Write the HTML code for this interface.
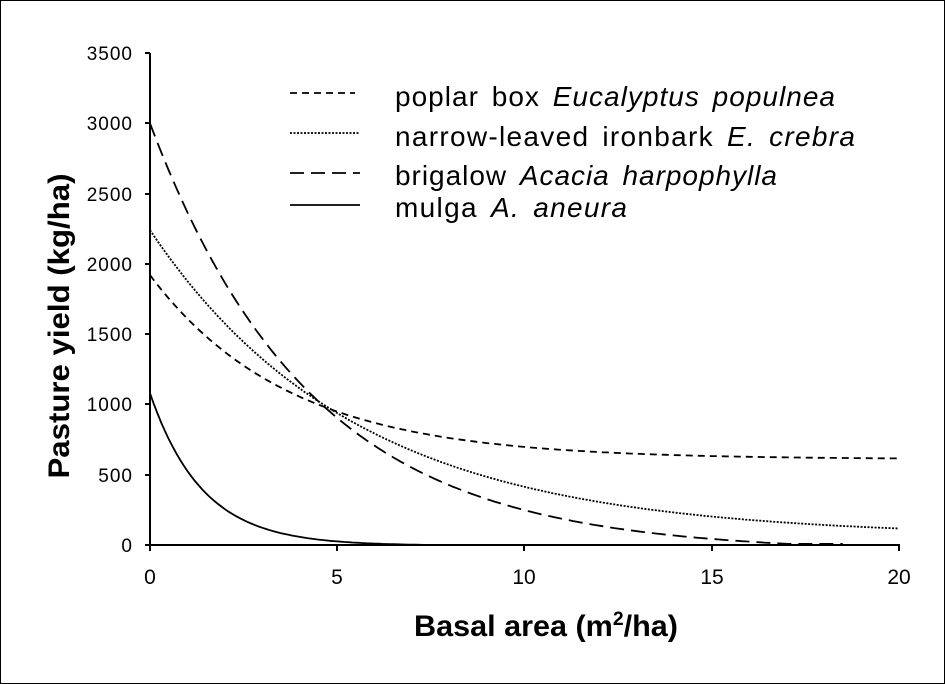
<!DOCTYPE html><html><head><style>body{margin:0;background:#fff}svg{display:block}text{font-family:"Liberation Sans",Arial,sans-serif}</style></head><body>
<svg id="s" width="945" height="684" viewBox="0 0 945 684">
<rect x="0.5" y="0.5" width="944" height="683" fill="#fff" stroke="#000" stroke-width="1"/>
<g stroke="#000" stroke-width="2" fill="none">
<line x1="150" y1="53" x2="150" y2="546"/><line x1="145" y1="545" x2="900" y2="545"/>
<line x1="145" y1="53" x2="150" y2="53"/><line x1="145" y1="123" x2="150" y2="123"/><line x1="145" y1="194" x2="150" y2="194"/><line x1="145" y1="264" x2="150" y2="264"/><line x1="145" y1="334" x2="150" y2="334"/><line x1="145" y1="404" x2="150" y2="404"/><line x1="145" y1="475" x2="150" y2="475"/>
<line x1="150" y1="545" x2="150" y2="551"/><line x1="337" y1="545" x2="337" y2="551"/><line x1="524" y1="545" x2="524" y2="551"/><line x1="712" y1="545" x2="712" y2="551"/><line x1="899" y1="545" x2="899" y2="551"/>
</g>
<g font-size="19" text-anchor="end" letter-spacing="1"><text x="133" y="60">3500</text><text x="133" y="130">3000</text><text x="133" y="201">2500</text><text x="133" y="271">2000</text><text x="133" y="341">1500</text><text x="133" y="411">1000</text><text x="133" y="482">500</text><text x="133" y="552">0</text></g>
<g font-size="21" text-anchor="middle"><text x="150" y="584">0</text><text x="337" y="584">5</text><text x="524" y="584">10</text><text x="712" y="584">15</text><text x="899" y="584">20</text></g>
<text x="414" y="636" font-size="30" font-weight="bold" textLength="264" lengthAdjust="spacingAndGlyphs">Basal area (m<tspan font-size="19" dy="-11">2</tspan><tspan dy="11">/ha)</tspan></text>
<text transform="translate(69,326) rotate(-90)" font-size="30" font-weight="bold" text-anchor="middle" textLength="305" lengthAdjust="spacingAndGlyphs">Pasture yield (kg/ha)</text>
<g stroke="#000" stroke-width="1.8" fill="none">
<line x1="290" y1="93" x2="355" y2="93" stroke-dasharray="7,5"/>
<line x1="290" y1="133" x2="360" y2="133" stroke-dasharray="2,1.5"/>
<line x1="290" y1="173" x2="360" y2="173" stroke-dasharray="14,7"/>
<line x1="290" y1="205" x2="360" y2="205"/>
<path id="p1" stroke-dasharray="7,5"/><path id="p2" stroke-dasharray="2,1.5"/><path id="p3" stroke-dasharray="14,7"/><path id="p4"/>
</g>
<g font-size="28" word-spacing="4"><text x="395" y="106" textLength="440">poplar box <tspan font-style="italic">Eucalyptus populnea</tspan></text>
<text x="395" y="146" textLength="460">narrow-leaved ironbark <tspan font-style="italic">E. crebra</tspan></text>
<text x="395" y="185" textLength="382">brigalow <tspan font-style="italic">Acacia harpophylla</tspan></text>
<text x="395" y="217" textLength="232">mulga <tspan font-style="italic">A. aneura</tspan></text></g>
</svg>
<script>
function mk(id,f,xe){let d="";for(let x=0;x<=xe+1e-9;x+=0.1){let px=150+x*37.45,py=545-f(x)*0.14057;d+=(d?"L":"M")+px.toFixed(1)+","+py.toFixed(1);}document.getElementById(id).setAttribute("d",d);}
mk("p1",x=>610+1310*Math.exp(-x/3.7),20);
mk("p2",x=>60+2180*Math.exp(-x/5.5),20);
mk("p3",x=>Math.max(3050*Math.exp(-x/4.3)-50,8),18.5);
mk("p4",x=>Math.max(1085*Math.exp(-x/1.4)-5,0),11.5);
</script>
</body></html>
